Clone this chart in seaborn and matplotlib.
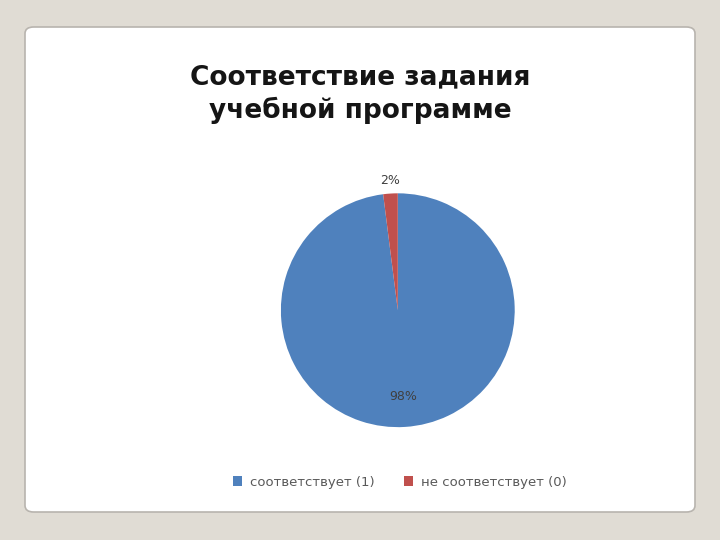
import matplotlib
matplotlib.use("Agg")
import matplotlib.pyplot as plt
import seaborn as sns
from matplotlib.patches import FancyBboxPatch

# данные
categories = ["соответствует (1)", "не соответствует (0)"]
shares = [98, 2]
colors = ["#4F81BD", "#C0504D"]
title = "Соответствие задания\nучебной программе"

sns.set_theme(style="white")
plt.rcParams['font.family'] = ['DejaVu Sans']

fig = plt.figure(figsize=(7.2, 5.4), dpi=100)
fig.patch.set_facecolor("#E0DCD4")

# белая карточка слайда
card = FancyBboxPatch((25 / 720, 28 / 540), 670 / 720, 485 / 540,
                      boxstyle="round,pad=0,rounding_size=0.012",
                      transform=fig.transFigure, facecolor="white",
                      edgecolor="#B8B4AE", linewidth=1.2, zorder=-5)
fig.patches.append(card)

fig.text(0.5, 0.826, title, ha="center", va="center", fontsize=19,
         fontweight="bold", color="#151515", linespacing=1.3)

ax = fig.add_axes([0.390, 0.209, 0.325, 0.433])
ax.set_zorder(3)
ax.patch.set_alpha(0)
wedges, texts, autotexts = ax.pie(
    shares, colors=colors, startangle=90, counterclock=False,
    autopct="%1.0f%%", pctdistance=0.74,
    wedgeprops={"linewidth": 0},
    textprops={"fontsize": 9, "color": "#404040"})
ax.set_aspect("equal")
ax.set_xlim(-1, 1)
ax.set_ylim(-1, 1)

# маленькую долю подписываем снаружи
x, y = autotexts[1].get_position()
autotexts[1].set_position((x * 1.5, y * 1.5))

leg = fig.legend(wedges, categories, loc="center", bbox_to_anchor=(0.555, 0.107),
                 ncol=2, frameon=False, fontsize=9.5, handlelength=0.7,
                 handleheight=0.7, columnspacing=2.2, handletextpad=0.6)
for t in leg.get_texts():
    t.set_color("#595959")

fig.savefig("out.png", dpi=100, facecolor=fig.get_facecolor())
